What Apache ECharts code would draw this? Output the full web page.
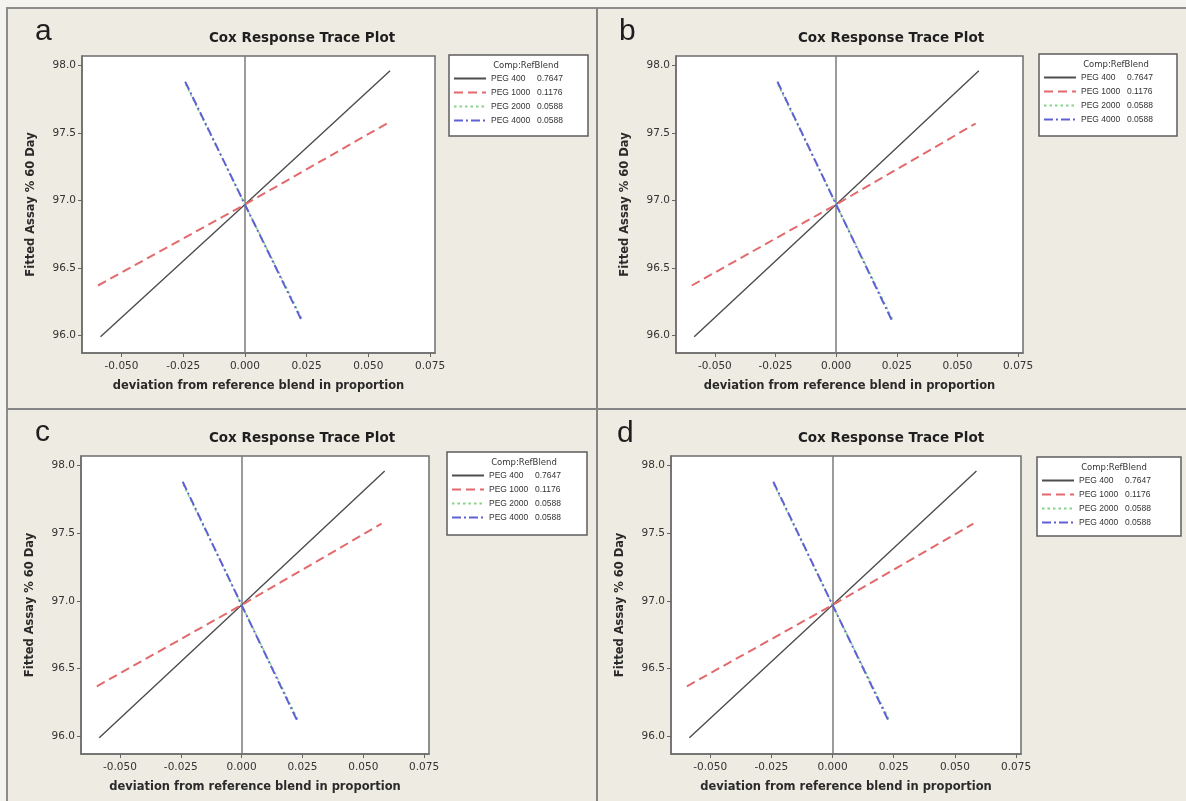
<!DOCTYPE html>
<html>
<head>
<meta charset="utf-8">
<script src="https://cdn.jsdelivr.net/npm/echarts@6/dist/echarts.min.js"></script>
<style>
html,body{margin:0;padding:0;background:#eeebe2;}
#chart{width:1186px;height:801px;}
</style>
</head>
<body>
<div id="chart"></div>
<script>
// ---- data ----
const panelLetters = ['a', 'b', 'c', 'd'];
const plotTitle = 'Cox Response Trace Plot';
const xAxisTitle = 'deviation from reference blend in proportion';
const yAxisTitle = 'Fitted Assay % 60 Day';
const legendTitle = 'Comp:RefBlend';
const components = ['PEG 400', 'PEG 1000', 'PEG 2000', 'PEG 4000'];
const refBlend = ['0.7647', '0.1176', '0.0588', '0.0588'];
const xTicks = [-0.05, -0.025, 0, 0.025, 0.05, 0.075];
const xTickLabels = ['-0.050', '-0.025', '0.000', '0.025', '0.050', '0.075'];
const yTicks = [96.0, 96.5, 97.0, 97.5, 98.0];
const yTickLabels = ['96.0', '96.5', '97.0', '97.5', '98.0'];
const peg400X = [-0.0585, 0, 0.0588];
const peg400Y = [95.99, 96.97, 97.96];
const peg1000X = [-0.0595, 0, 0.0575];
const peg1000Y = [96.37, 96.97, 97.57];
const peg2000X = [-0.0240, 0, 0.0232];
const peg2000Y = [97.86, 96.97, 96.12];
const peg4000X = [-0.0242, 0, 0.0230];
const peg4000Y = [97.88, 96.97, 96.11];
const seriesX = [peg400X, peg1000X, peg2000X, peg4000X];
const seriesY = [peg400Y, peg1000Y, peg2000Y, peg4000Y];

// ---- layout & style ----
const layout = [
  {l: 82, t: 56, r: 435, b: 353, lgX: 449, lgY: 55, lgW: 139, lgH: 81, letX: 35, letY: 32, tX: 302, tY: 38},
  {l: 676, t: 56, r: 1023, b: 353, lgX: 1039, lgY: 54, lgW: 138, lgH: 82, letX: 619, letY: 32, tX: 891, tY: 38},
  {l: 81, t: 456, r: 429, b: 754, lgX: 447, lgY: 452, lgW: 140, lgH: 83, letX: 35, letY: 433, tX: 302, tY: 438},
  {l: 671, t: 456, r: 1021, b: 754, lgX: 1037, lgY: 457, lgW: 144, lgH: 79, letX: 617, letY: 434, tX: 891, tY: 438}
];
const lineStyles = [
  {color: '#4d4d4d', width: 1.4, type: 'solid'},
  {color: '#e26a6c', width: 2, type: [9, 5]},
  {color: '#86d38a', width: 1.6, type: [2.5, 3]},
  {color: '#6060d6', width: 2, type: [9, 3, 2, 3]}
];
const FONT = '"Liberation Sans", Arial, sans-serif';
const WIDE = '"DejaVu Sans", Verdana, sans-serif';

function fmt(v, ticks, labels) {
  const i = ticks.findIndex(t => Math.abs(t - v) < 1e-9);
  return i >= 0 ? labels[i] : String(v);
}

const grids = [], xAxes = [], yAxes = [], series = [], legends = [], graphics = [];

// frame
graphics.push({type: 'rect', z: 0, shape: {x: 0, y: 0, width: 1186, height: 7}, style: {fill: '#f5f3ef'}});
graphics.push({type: 'rect', z: 0, shape: {x: 0, y: 0, width: 6, height: 801}, style: {fill: '#f5f3ef'}});
graphics.push({type: 'rect', z: 1, shape: {x: 7, y: 8, width: 1190, height: 800}, style: {fill: 'none', stroke: '#8c8c8c', lineWidth: 2}});
graphics.push({type: 'line', z: 1, shape: {x1: 597, y1: 8, x2: 597, y2: 801}, style: {stroke: '#858585', lineWidth: 2}});
graphics.push({type: 'line', z: 1, shape: {x1: 7, y1: 409, x2: 1186, y2: 409}, style: {stroke: '#858585', lineWidth: 2}});

layout.forEach((p, k) => {
  grids.push({
    left: p.l, top: p.t, width: p.r - p.l, height: p.b - p.t,
    show: true, backgroundColor: '#ffffff', borderColor: '#6e6e6e', borderWidth: 1.5,
    containLabel: false, outerBoundsMode: 'none'
  });
  xAxes.push({
    type: 'value', gridIndex: k, min: -0.066, max: 0.077,
    name: xAxisTitle, nameLocation: 'middle', nameGap: 27,
    nameTextStyle: {fontFamily: WIDE, fontWeight: 'bold', fontSize: 11.5, color: '#2a2a2a'},
    axisLine: {show: true, onZero: false, lineStyle: {color: '#6e6e6e', width: 1.5}},
    axisTick: {show: true, inside: false, length: 4, customValues: xTicks, lineStyle: {color: '#666'}},
    axisLabel: {show: true, margin: 8, customValues: xTicks, fontFamily: WIDE, fontSize: 10.5, color: '#333',
      formatter: v => fmt(v, xTicks, xTickLabels)},
    splitLine: {show: false}
  });
  yAxes.push({
    type: 'value', gridIndex: k, min: 95.87, max: 98.07,
    name: yAxisTitle, nameLocation: 'middle', nameGap: 45, nameRotate: 90,
    nameTextStyle: {fontFamily: WIDE, fontWeight: 'bold', fontSize: 11.5, color: '#2a2a2a'},
    axisLine: {show: true, onZero: false, lineStyle: {color: '#6e6e6e', width: 1.5}},
    axisTick: {show: true, inside: false, length: 4, customValues: yTicks, lineStyle: {color: '#666'}},
    axisLabel: {show: true, margin: 6, customValues: yTicks, fontFamily: WIDE, fontSize: 10.5, color: '#333',
      formatter: v => fmt(v, yTicks, yTickLabels)},
    splitLine: {show: false}
  });
  components.forEach((name, i) => {
    const s = {
      type: 'line', name: name, xAxisIndex: k, yAxisIndex: k,
      data: seriesX[i].map((x, j) => [x, seriesY[i][j]]),
      symbol: 'none', showSymbol: false, silent: true, z: 3 + i,
      lineStyle: lineStyles[i], itemStyle: {color: lineStyles[i].color},
      animation: false
    };
    if (i === 0) {
      s.markLine = {
        silent: true, symbol: ['none', 'none'], label: {show: false},
        lineStyle: {color: '#7a7a7a', type: 'solid', width: 1.5},
        data: [{xAxis: 0}], animation: false, z: 1
      };
    }
    series.push(s);
  });
  legends.push({
    orient: 'vertical', left: p.lgX + 4, top: p.lgY + 19, padding: 0,
    itemWidth: 32, itemHeight: 10, itemGap: 5, selectedMode: false, z: 20,
    data: components,
    itemStyle: {opacity: 0},
    textStyle: {fontFamily: FONT, fontSize: 8.5, color: '#333',
      rich: {n: {width: 46, fontSize: 8.5, fontFamily: FONT, color: '#333'}, v: {fontSize: 8.5, fontFamily: FONT, color: '#333'}}},
    formatter: name => '{n|' + name + '}{v|' + refBlend[components.indexOf(name)] + '}'
  });
  graphics.push({type: 'rect', z: 5, shape: {x: p.lgX, y: p.lgY, width: p.lgW, height: p.lgH},
    style: {fill: '#ffffff', stroke: '#5e5e5e', lineWidth: 1.5}});
  graphics.push({type: 'text', z: 6, x: p.lgX + 77, y: p.lgY + 11,
    style: {text: legendTitle, font: '8.5px ' + WIDE, fill: '#333', align: 'center', verticalAlign: 'middle'}});
  graphics.push({type: 'text', z: 6, x: p.letX, y: p.letY,
    style: {text: panelLetters[k], font: '30px ' + FONT, fill: '#1e1e1e', align: 'left', verticalAlign: 'middle'}});
  graphics.push({type: 'text', z: 6, x: p.tX, y: p.tY,
    style: {text: plotTitle, font: 'bold 13.5px ' + WIDE, fill: '#1e1e1e', align: 'center', verticalAlign: 'middle'}});
});

const chart = echarts.init(document.getElementById('chart'), null, {renderer: 'canvas'});
chart.setOption({
  backgroundColor: '#eeebe2',
  animation: false,
  grid: grids, xAxis: xAxes, yAxis: yAxes, series: series, legend: legends,
  graphic: {elements: graphics}
});
</script>
</body>
</html>
